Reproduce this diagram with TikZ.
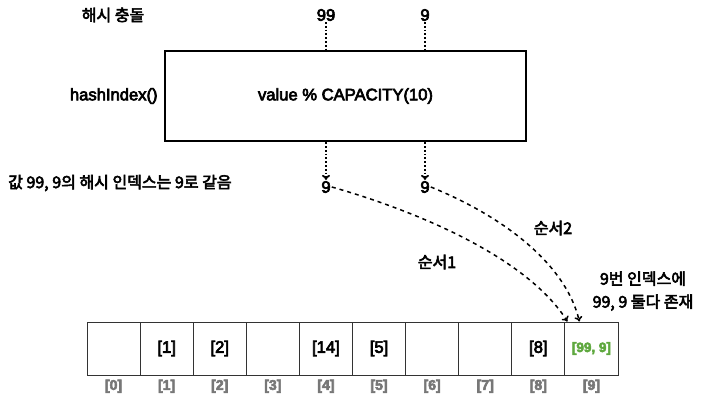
\documentclass[tikz,border=0pt]{standalone}
\usepackage{fontspec}
\setmainfont{Liberation Sans}[FakeBold=4]
\newfontfamily\kr{Noto Sans CJK KR}[FakeBold=3.5]
\usepackage{xcolor}
\usepackage{tikz}
\usetikzlibrary{arrows.meta,positioning,calc}
\definecolor{idxgray}{HTML}{777777}
\definecolor{okgreen}{HTML}{5FA83F}

\begin{document}
\begin{tikzpicture}[x=1pt,y=-1pt,every node/.style={font=\fontsize{16.6}{19}\selectfont,inner sep=1pt},
  krtext/.style={font=\kr\fontsize{16}{23}\selectfont},
  hashbox/.style={draw,line width=2.4pt,minimum width=361pt,minimum height=90pt},
  cell/.style={draw=black!80,line width=1pt,minimum width=53.1pt,minimum height=53pt},
  idx/.style={font=\bfseries\fontsize{14}{16}\selectfont,text=idxgray},
  flow/.style={dotted,line width=1.8pt},
  route/.style={dash pattern=on 4pt off 4pt,line width=1.5pt},
  tip/.style={-{To[length=5pt,width=8pt]}}]
  \useasboundingbox (0,0) rectangle (704,404);
  % hash function
  \node[hashbox] (func) at (345.5,96) {value \% CAPACITY(10)};
  \node[left=5pt of func] (fname) {hashIndex()};
  \node[krtext] (title) at (113,15) {해시 충돌};
  % inputs and outputs
  \node (in99) at (326,15) {99};
  \node (in9) at (425,15) {9};
  \node (out99) at (326,187) {9};
  \node (out9) at (425,187) {9};
  \node[krtext,anchor=west] (note) at (7,183) {값 99, 9의 해시 인덱스는 9로 같음};
  \draw[flow] (in99) -- (in99 |- func.north);
  \draw[flow] (in9) -- (in9 |- func.north);
  \draw[flow,tip] (in99 |- func.south) -- (out99);
  \draw[flow,tip] (in9 |- func.south) -- (out9);
  % array
  \foreach \i in {0,...,9} {
    \node[cell] (cell\i) at (87+26.55+53.1*\i,348.5) {};
    \node[idx,below=3pt of cell\i] (idx\i) {[\i]};
  }
  \foreach \i/\v in {1/[1],2/[2],4/[14],5/[5],8/[8]}
    \node (val\i) at (cell\i) {\v};
  \node[font=\bfseries\fontsize{13.5}{16}\selectfont,text=okgreen] (val9) at (cell9) {[99, 9]};
  % insertion order
  \coordinate (hit1) at ($(cell9.north west)+(3,0)$);
  \coordinate (hit2) at ($(cell9.north west)+(15,0)$);
  \draw[route,tip] (out99.east) .. controls (430,215) and (530,262) .. (hit1);
  \draw[route,tip] (out9.east) .. controls (500,215) and (565,262) .. (hit2);
  \node[krtext] (order1) at (437,262) {순서1};
  \node[krtext] (order2) at (553,228) {순서2};
  \node[krtext,align=center] (both) at (643,291) {9번 인덱스에\\99, 9 둘다 존재};
\end{tikzpicture}
\end{document}
